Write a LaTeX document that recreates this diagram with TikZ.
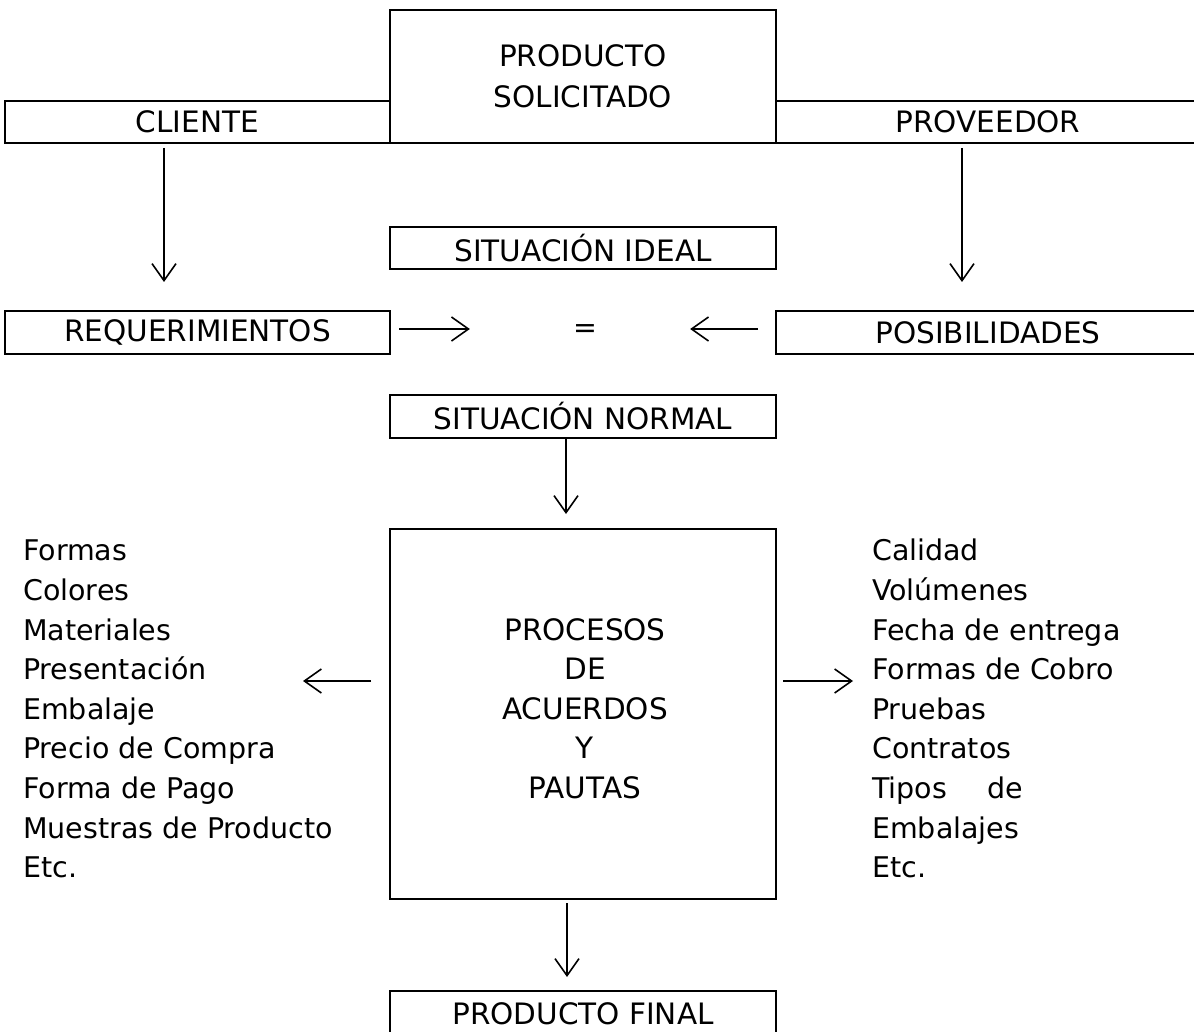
\documentclass[tikz,border=0pt]{standalone}
\usepackage{fontspec}
\setmainfont{DejaVu Sans}
\usetikzlibrary{arrows.meta}
\begin{document}
\begin{tikzpicture}[x=1pt,y=-1pt,
  box/.style={draw, line width=2pt, rectangle, inner sep=0pt, align=center, font=\fontsize{29.5}{41}\selectfont},
  txt/.style={inner sep=0pt, font=\fontsize{28.5}{39.6}\selectfont},
  arr/.style={line width=1.6pt, -{Straight Barb[length=17pt,width=24pt]}}]
\useasboundingbox[fill=white] (0,0) rectangle (1194,1032);
% boxes
\node[box, minimum width=386, minimum height=133] (prod) at (583,76.5) {PRODUCTO\\SOLICITADO};
\node[box, minimum width=385, minimum height=42] (cli) at (197.5,122) {CLIENTE};
\node[box, minimum width=424, minimum height=42] (prov) at (988,122) {PROVEEDOR};
\node[box, minimum width=386, minimum height=42] (ideal) at (583,248) {SITUACIÓN IDEAL};
\node[box, minimum width=385, minimum height=43] (req) at (197.5,332.5) {REQUERIMIENTOS};
\node[txt] (eq) at (585,331) {=};
\node[box, minimum width=424, minimum height=43] (posib) at (988,332.5) {POSIBILIDADES};
\node[box, minimum width=386, minimum height=43] (normal) at (583,416.5) {SITUACIÓN NORMAL};
\node[box, minimum width=386, minimum height=370] (proc) at (583,714) {};
\node[txt, align=center, font=\fontsize{29.5}{39.6}\selectfont] (proctxt) at (585,708.5) {PROCESOS\\DE\\ACUERDOS\\Y\\PAUTAS};
\node[box, minimum width=386, minimum height=46] (final) at (583,1014) {PRODUCTO FINAL};
% lists
\node[txt, align=left, anchor=north west] (left) at (23,540) {Formas\\Colores\\Materiales\\Presentación\\Embalaje\\Precio de Compra\\Forma de Pago\\Muestras de Producto\\Etc.};
\node[txt, align=left, anchor=north west] (right) at (872,539) {Calidad\\Volúmenes\\Fecha de entrega\\Formas de Cobro\\Pruebas\\Contratos\\Tipos\hspace{40pt}de\\Embalajes\\Etc.};
% helper coordinates
\coordinate (xc) at (164,0);
\coordinate (xp) at (962,0);
\coordinate (xm) at (566,0);
\coordinate (xb) at (567,0);
\coordinate (yh) at (0,329);
\coordinate (ys) at (0,681);
\coordinate (lend) at (303,681);
\coordinate (rend) at (853,681);
% connectors
\draw[arr, shorten <=4, shorten >=28] (cli.south -| xc) -- (req.north -| xc);
\draw[arr, shorten <=4, shorten >=28] (prov.south -| xp) -- (posib.north -| xp);
\draw[arr, shorten <=8, shorten >=103] (req.east |- yh) -- (eq.west |- yh);
\draw[arr, shorten <=17, shorten >=93] (posib.west |- yh) -- (eq.east |- yh);
\draw[arr, shorten >=14] (normal.south -| xm) -- (proc.north -| xm);
\draw[arr, shorten <=3, shorten >=13] (proc.south -| xb) -- (final.north -| xb);
\draw[arr, shorten <=18] (proc.west |- ys) -- (lend);
\draw[arr, shorten <=6] (proc.east |- ys) -- (rend);
\end{tikzpicture}
\end{document}
